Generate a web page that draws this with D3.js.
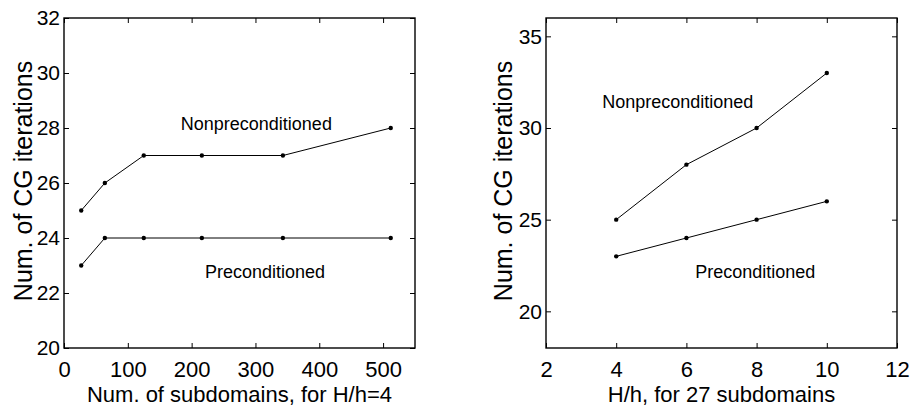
<!DOCTYPE html>
<html>
<head>
<meta charset="utf-8">
<script src="https://cdn.jsdelivr.net/npm/d3@7"></script>
<style>
	body { margin: 0; background: #fff; }
	svg { display: block; font-family: "Liberation Sans", Arial, sans-serif; }
</style>
</head>
<body>
<div id="plot"></div>
<script>

// left panel: subdomains (H/h = 4)
let subdomains = [ 27, 64, 125, 216, 343, 512 ];
let left_nonprec = [ 25, 26, 27, 27, 27, 28 ];
let left_prec = [ 23, 24, 24, 24, 24, 24 ];
let left_xticks = [ 0, 100, 200, 300, 400, 500 ];
let left_yticks = [ 20, 22, 24, 26, 28, 30, 32 ];

// right panel: H/h (27 subdomains)
let ratios = [ 4, 6, 8, 10 ];
let right_nonprec = [ 25, 28, 30, 33 ];
let right_prec = [ 23, 24, 25, 26 ];
let right_xticks = [ 2, 4, 6, 8, 10, 12 ];
let right_yticks = [ 20, 25, 30, 35 ];

///////////////////////////////////////////////////////////////////////

let svg = d3.select( "#plot" )
	.append( "svg" )
		.attr( "width", 912 )
		.attr( "height", 415 );

draw_panel( {
	left: 64, right: 415, top: 18, bottom: 348,
	xdomain: [ 0, 550 ], ydomain: [ 20, 32 ],
	xticks: left_xticks, yticks: left_yticks,
	xs: subdomains,
	series: [
		{ values: left_nonprec, label: "Nonpreconditioned", at: [ 183, 27.93 ] },
		{ values: left_prec, label: "Preconditioned", at: [ 221, 22.55 ] }
	],
	xlabel: "Num. of subdomains, for H/h=4",
	ylabel_x: 32
} );

draw_panel( {
	left: 546, right: 897, top: 18, bottom: 348,
	xdomain: [ 2, 12 ], ydomain: [ 18, 36 ],
	xticks: right_xticks, yticks: right_yticks,
	xs: ratios,
	series: [
		{ values: right_nonprec, label: "Nonpreconditioned", at: [ 3.6, 31.09 ] },
		{ values: right_prec, label: "Preconditioned", at: [ 6.25, 21.82 ] }
	],
	xlabel: "H/h, for 27 subdomains",
	ylabel_x: 512
} );

function draw_panel( p )	{

	let x = d3.scaleLinear().domain( p.xdomain ).range( [ p.left, p.right ] );
	let y = d3.scaleLinear().domain( p.ydomain ).range( [ p.bottom, p.top ] );

	let g = svg.append( "g" );

	// inward ticks on all four sides
	g.append( "g" )
		.attr( "transform", "translate(0," + p.bottom + ")" )
		.call( d3.axisBottom( x ).tickValues( p.xticks ).tickSize( -5 ).tickPadding( 13 ) )
		.call( a => a.select( ".domain" ).remove() )
		.selectAll( "text" ).attr( "font-size", 22 ).attr( "font-family", null ).attr( "fill", "#000" );

	g.append( "g" )
		.attr( "transform", "translate(" + p.left + ",0)" )
		.call( d3.axisLeft( y ).tickValues( p.yticks ).tickSize( -5 ).tickPadding( 4 ) )
		.call( a => a.select( ".domain" ).remove() )
		.selectAll( "text" ).attr( "font-size", 21 ).attr( "font-family", null ).attr( "fill", "#000" );

	g.append( "g" )
		.attr( "transform", "translate(0," + p.top + ")" )
		.call( d3.axisTop( x ).tickValues( p.xticks ).tickSize( -5 ).tickFormat( "" ) )
		.call( a => a.select( ".domain" ).remove() );

	g.append( "g" )
		.attr( "transform", "translate(" + p.right + ",0)" )
		.call( d3.axisRight( y ).tickValues( p.yticks ).tickSize( -5 ).tickFormat( "" ) )
		.call( a => a.select( ".domain" ).remove() );

	g.selectAll( ".tick line" ).attr( "stroke", "#000" );

	g.append( "rect" )
		.attr( "x", p.left )
		.attr( "y", p.top )
		.attr( "width", p.right - p.left )
		.attr( "height", p.bottom - p.top )
		.attr( "fill", "none" )
		.attr( "stroke", "#000" )
		.attr( "stroke-width", 1.4 );

	let line = d3.line()
		.x( ( d, i ) => x( p.xs[ i ] ) )
		.y( d => y( d ) );

	p.series.forEach( s => {

		g.append( "path" )
			.datum( s.values )
			.attr( "d", line )
			.attr( "fill", "none" )
			.attr( "stroke", "#000" )
			.attr( "stroke-width", 1 );

		g.append( "g" )
			.selectAll( "circle" )
			.data( s.values )
			.join( "circle" )
				.attr( "cx", ( d, i ) => x( p.xs[ i ] ) )
				.attr( "cy", d => y( d ) )
				.attr( "r", 2.2 )
				.attr( "fill", "#000" );

		g.append( "text" )
			.attr( "x", x( s.at[ 0 ] ) )
			.attr( "y", y( s.at[ 1 ] ) )
			.attr( "font-size", 18 )
			.text( s.label );
	} );

	g.append( "text" )
		.attr( "x", ( p.left + p.right ) / 2 )
		.attr( "y", 402 )
		.attr( "text-anchor", "middle" )
		.attr( "font-size", 22 )
		.text( p.xlabel );

	g.append( "text" )
		.attr( "transform", "translate(" + p.ylabel_x + "," + ( ( p.top + p.bottom ) / 2 - 2 ) + ") rotate(-90)" )
		.attr( "text-anchor", "middle" )
		.attr( "font-size", 25 )
		.text( "Num. of CG iterations" );
}

</script>
</body>
</html>
